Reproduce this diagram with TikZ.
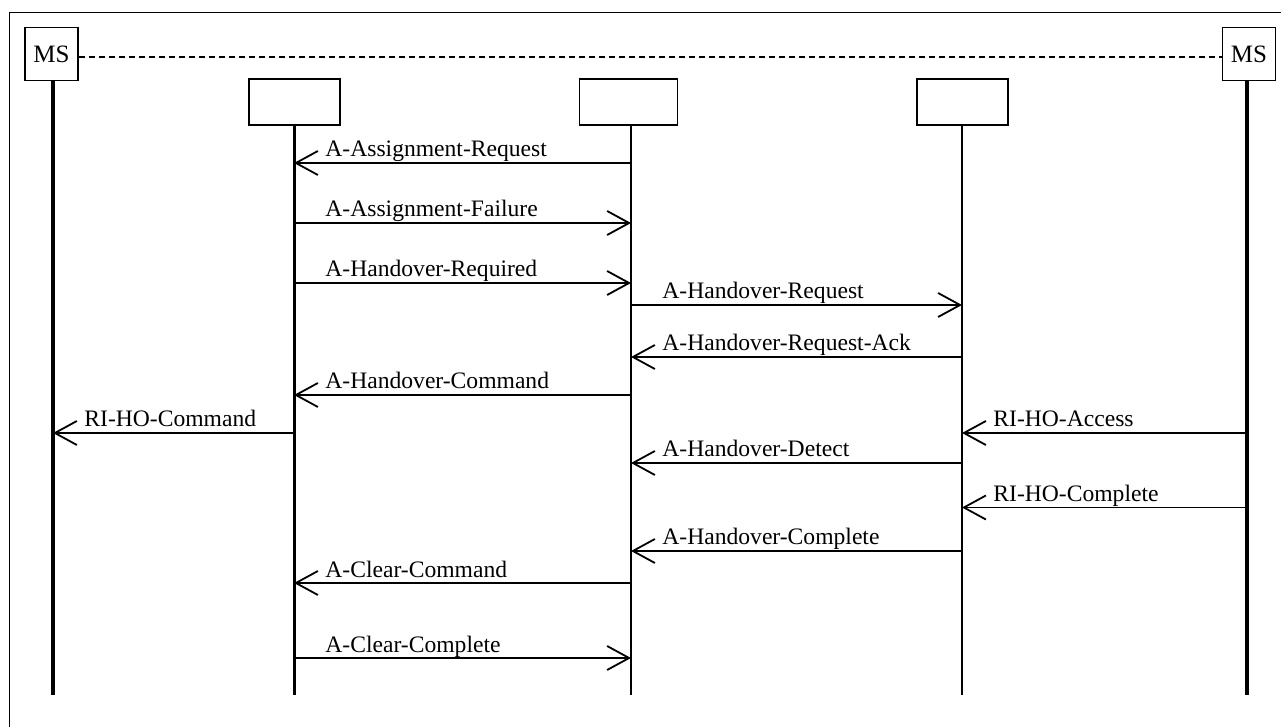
\documentclass[tikz,border=0pt]{standalone}
\usepackage{fontspec}
\setmainfont{Liberation Serif}
\usetikzlibrary{arrows.meta,calc}
\tikzset{
  txt/.style={font=\fontsize{11.8pt}{14pt}\selectfont},
  msbox/.style={draw, line width=0.75pt, minimum width=26.5pt, minimum height=26.5pt, inner sep=0pt, font=\fontsize{12.5pt}{14pt}\selectfont, fill=white},
  entbox/.style={draw, line width=0.9pt, minimum height=23pt, inner sep=0pt},
  life/.style={line width=1.5pt},
  lifethin/.style={line width=1.3pt},
  msgline/.style={line width=0.75pt, -{Straight Barb[length=11pt,width=12pt,line width=0.9pt]}},
  lbl/.style={txt, anchor=base west, inner sep=0pt},
  frame/.style={line width=0.9pt},
  dashline/.style={line width=0.6pt, dash pattern=on 3pt off 2pt}
}
\newcommand\mymsg[6]{% name, from, to, y, left lifeline, text
  \draw[msgline] (#2 |- 0,#4) -- (#3 |- 0,#4);
  \node[lbl] (#1) at ($(#5 |- 0,#4)+(15.5pt,3pt)$) {#6};}
\begin{document}
\begin{tikzpicture}[x=0.5pt,y=-0.5pt]
\useasboundingbox (0,0) rectangle (1281,727);
\draw[frame] (1281,12.5) -- (9.5,12.5) -- (9.5,727);
% participants
\node[msbox] (ms1) at (51.5,54) {MS};
\node[msbox] (ms2) at (1249,54) {MS};
\node[entbox, minimum width=45.5pt] (b2) at (294.5,102) {};
\node[entbox, minimum width=49pt] (b3) at (628.5,102) {};
\node[entbox, minimum width=45.5pt] (b4) at (962.5,102) {};
\draw[dashline] (ms1.east |- 0,57) -- (ms2.west |- 0,57);
% lifelines
\coordinate (l1) at (53,0);
\coordinate (l5) at (1247,0);
\coordinate (l2) at (294,0);
\coordinate (l3) at (631,0);
\coordinate (l4) at (962,0);
\draw[life, line width=2pt] (l1 |- ms1.south) -- (l1 |- 0,695);
\draw[life, line width=2pt] (l5 |- ms2.south) -- (l5 |- 0,695);
\draw[life] (l2 |- b2.south) -- (l2 |- 0,695);
\draw[lifethin] (l3 |- b3.south) -- (l3 |- 0,695);
\draw[lifethin] (l4 |- b4.south) -- (l4 |- 0,695);
% messages
\mymsg{m1}{l3}{l2}{163}{l2}{A-Assignment-Request}
\mymsg{m2}{l2}{l3}{223}{l2}{A-Assignment-Failure}
\mymsg{m3}{l2}{l3}{283}{l2}{A-Handover-Required}
\mymsg{m4}{l3}{l4}{305}{l3}{A-Handover-Request}
\mymsg{m5}{l4}{l3}{357}{l3}{A-Handover-Request-Ack}
\mymsg{m6}{l3}{l2}{395}{l2}{A-Handover-Command}
\mymsg{m7}{l2}{l1}{433}{l1}{RI-HO-Command}
\mymsg{m8}{l5}{l4}{433}{l4}{RI-HO-Access}
\mymsg{m9}{l4}{l3}{463}{l3}{A-Handover-Detect}
\mymsg{m10}{l5}{l4}{507.5}{l4}{RI-HO-Complete}
\mymsg{m11}{l4}{l3}{551}{l3}{A-Handover-Complete}
\mymsg{m12}{l3}{l2}{583}{l2}{A-Clear-Command}
\mymsg{m13}{l2}{l3}{658}{l2}{A-Clear-Complete}
\end{tikzpicture}
\end{document}
